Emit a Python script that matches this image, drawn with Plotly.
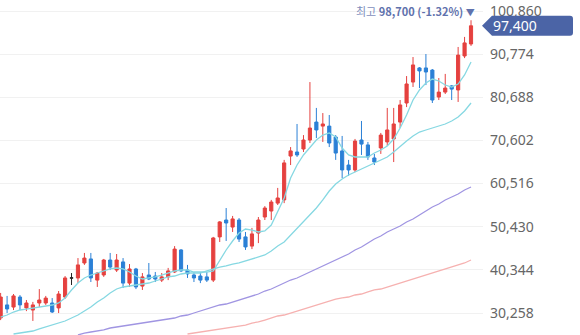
import plotly.graph_objects as go

# Daily OHLC (KRW), oldest first
open_ = [29100, 32150, 31650, 34000, 31450, 30950, 32600, 32600, 32600, 31450,
         34000, 38450, 38450, 41950, 42900, 37950, 39150, 42650, 40300, 42200,
         37250, 40550, 36550, 39150, 38900, 37950, 38700, 39850, 45000, 40300,
         39150, 38900, 38700, 37950, 48050, 52000, 50350, 52000, 48050, 45900,
         48950, 52700, 54100, 55950, 56700, 66950, 67900, 68600, 70700, 74900,
         73950, 73950, 71400, 68150, 64850, 63700, 70700, 69550, 66500, 68850,
         70250, 70950, 74900, 79350, 84250, 87550, 87550, 87050, 80750, 81900,
         83350, 82400, 90350, 93150]
high = [34950, 34250, 34700, 34450, 33300, 32850, 35850, 34250, 33750, 35400,
        38900, 39600, 43100, 44300, 44300, 39850, 42900, 44300, 44050, 43100,
        41700, 40800, 39600, 41950, 39850, 39600, 40800, 45900, 45200, 41500,
        39850, 39850, 39850, 48050, 51750, 54800, 52950, 52450, 49200, 50150,
        52700, 55250, 56700, 59500, 66050, 69050, 74450, 71850, 84250, 78200,
        77000, 76550, 71850, 71650, 66050, 70950, 75150, 70250, 67450, 72350,
        78200, 78200, 80050, 85650, 90100, 87750, 90800, 87300, 85200, 86150,
        83550, 92450, 94800, 98700]
low = [28600, 30250, 30950, 30950, 30700, 28400, 31650, 32150, 30250, 30250,
       33550, 36800, 37250, 41500, 37500, 36350, 38700, 40300, 39850, 36100,
       36350, 35850, 35650, 37950, 37500, 37500, 37950, 39600, 39850, 38450,
       37500, 37250, 37500, 37500, 46850, 47100, 49200, 46850, 45000, 45200,
       46600, 52000, 52000, 55500, 55950, 64850, 66750, 67900, 70000, 71150,
       70250, 69050, 66050, 61800, 62300, 63200, 67200, 66050, 64850, 67450,
       69300, 65550, 73500, 78400, 83100, 82850, 83550, 79350, 80050, 81450,
       80050, 79600, 89850, 92700]
close = [34000, 31200, 34250, 32150, 32600, 32150, 33300, 33750, 30500, 34700,
         38450, 38450, 41500, 43100, 38450, 39600, 42650, 41000, 42650, 37250,
         40550, 36350, 38700, 38200, 38200, 38700, 40100, 45200, 40100, 39400,
         38450, 37950, 37950, 47800, 51550, 51300, 52250, 47550, 45700, 48750,
         52000, 54800, 56200, 57150, 65350, 68150, 67200, 70700, 73500, 73050,
         74450, 70000, 67650, 63700, 63700, 70450, 69750, 66750, 65550, 71850,
         73050, 74450, 78900, 83800, 88250, 86850, 86600, 80050, 81900, 82850,
         82600, 90550, 93400, 97400]

# Moving averages (None where the line has not started on screen)
ma5 = [29320, 29790, 30490, 30960, 31190, 31430, 31660, 31900, 32130, 32600,
       33770, 35640, 37270, 38440, 39140, 39610, 40080, 40550, 40780, 40550,
       39840, 38910, 38210, 38440, 38680, 39140, 39610, 40080, 40310, 40310,
       39840, 39840, 39840, 40080, 42650, 44990, 47090, 48960, 49900, 49660,
       49200, 49430, 50830, 53870, 57140, 61820, 64860, 67200, 69070, 70700,
       71870, 72340, 71400, 68830, 67200, 66730, 66730, 66730, 67660, 68370,
       69300, 70940, 73510, 76550, 80050, 82390, 84030, 84960, 84500, 83560,
       83090, 83790, 85900, 88940]
ma20 = [None, None, 25350, 25580, 25820, 26050, 26520, 26990, 27450, 27920,
        28390, 29090, 29790, 30730, 31660, 32830, 33770, 34940, 35870, 36340,
        36570, 36810, 37040, 37270, 37740, 38210, 38680, 38910, 39380, 39610,
        39610, 39610, 40080, 40550, 41010, 41250, 41710, 41950, 42420, 42880,
        43350, 43820, 44750, 45920, 46860, 48490, 49900, 51530, 53170, 54810,
        56680, 58780, 60420, 61590, 62520, 63220, 63920, 64620, 65330, 66030,
        66730, 67900, 69300, 70470, 71640, 72570, 73040, 73510, 73980, 74440,
        75150, 76080, 77480, 79350]
ma60 = [None] * 12 + [
        25120, 25580, 25820, 26050, 26290, 26750, 26990, 27220,
        27450, 27690, 27920, 28160, 28390, 28620, 28860, 29090, 29560, 29790,
        30260, 30730, 31190, 31660, 32130, 32360, 32830, 33300, 33770, 34230,
        34700, 35400, 35870, 36570, 37270, 37970, 38440, 39140, 39840, 40550,
        41250, 41950, 42650, 43350, 44050, 44990, 45690, 46620, 47560, 48260,
        49200, 49900, 50600, 51530, 52230, 53170, 54100, 55040, 55740, 56680,
        57380, 58080, 59010, 59720]
ma120 = [None] * 29 + [
        25350, 25580, 25820, 26050, 26290, 26520, 26750, 26990, 27220, 27450,
        27920, 28160, 28620, 29090, 29560, 29790, 30260, 30730, 31190, 31660,
        32130, 32600, 33060, 33530, 33770, 34000, 34470, 34700, 35170, 35640,
        35870, 36340, 36810, 37270, 37740, 38210, 38680, 39140, 39610, 40080,
        40550, 41010, 41480, 41950, 42650]

# Right-hand price scale
tick_vals = [30258, 40344, 50430, 60516, 70602, 80688, 90774, 100860]
tick_text = ["30,258", "40,344", "50,430", "60,516", "70,602", "80,688", "90,774", "100,860"]

period_high = 98700
last_price = 97400
high_change = "-1.32%"

UP = "#e5413f"
DOWN = "#2b80d6"

idx = list(range(len(close)))
normal = [i for i in idx if open_[i] != close[i]]
doji = [i for i in idx if open_[i] == close[i]]

fig = go.Figure()

for vals, color in [(ma120, "#f6b1b0"), (ma60, "#a095e2"), (ma20, "#86d8e2"), (ma5, "#86d8e2")]:
    fig.add_trace(go.Scatter(x=idx, y=vals, mode="lines", line=dict(color=color, width=1.3),
                             hoverinfo="skip"))


def candles(ids, up, down):
    return go.Candlestick(
        x=ids,
        open=[open_[i] for i in ids], high=[high[i] for i in ids],
        low=[low[i] for i in ids], close=[close[i] for i in ids],
        increasing=dict(line=dict(color=up, width=1), fillcolor=up),
        decreasing=dict(line=dict(color=down, width=1), fillcolor=down),
        whiskerwidth=0,
    )


fig.add_trace(candles(normal, UP, DOWN))
fig.add_trace(candles(doji, "#222222", "#222222"))

# Period-high marker above the last candle
fig.add_annotation(
    x=idx[-1], y=period_high, xref="x", yref="y",
    text=(f"<span style='color:#7f8fbd'>최고</span> <b>{period_high:,} ({high_change})</b> "
          "<span style='font-size:9px'>▼</span>"),
    showarrow=False, xanchor="right", yanchor="bottom", xshift=6, yshift=-1,
    font=dict(family="Noto Sans CJK KR", size=11, color="#5f72ad"),
)

# Current price tag on the price scale
fig.add_shape(
    type="path", xref="paper", yref="y", xsizemode="pixel", ysizemode="pixel",
    xanchor=1, yanchor=last_price,
    path="M -1,0 L 9,-10 L 87,-10 Q 90,-10 90,-7 L 90,7 Q 90,10 87,10 L 9,10 Z",
    fillcolor="#4b64a6", line=dict(width=0), layer="above",
)
fig.add_annotation(
    x=1, y=last_price, xref="paper", yref="y", text=f"{last_price:,}",
    showarrow=False, xanchor="left", yanchor="middle", xshift=8,
    font=dict(family="Noto Sans", size=14, color="white"),
)

fig.update_layout(
    width=580, height=335,
    margin=dict(l=0, r=97, t=0, b=0),
    paper_bgcolor="white", plot_bgcolor="white",
    showlegend=False,
    xaxis=dict(range=[-0.1, 74.86], visible=False, rangeslider=dict(visible=False),
               showgrid=False, zeroline=False),
    yaxis=dict(side="right", range=[25116, 103432], tickvals=tick_vals, ticktext=tick_text,
               showgrid=True, gridcolor="#f1f1f1", gridwidth=1, zeroline=False,
               showline=False, ticks="", ticklen=0, ticklabelstandoff=6,
               tickfont=dict(family="Noto Sans", size=14, color="#666666")),
)

fig.write_html("out.html")
